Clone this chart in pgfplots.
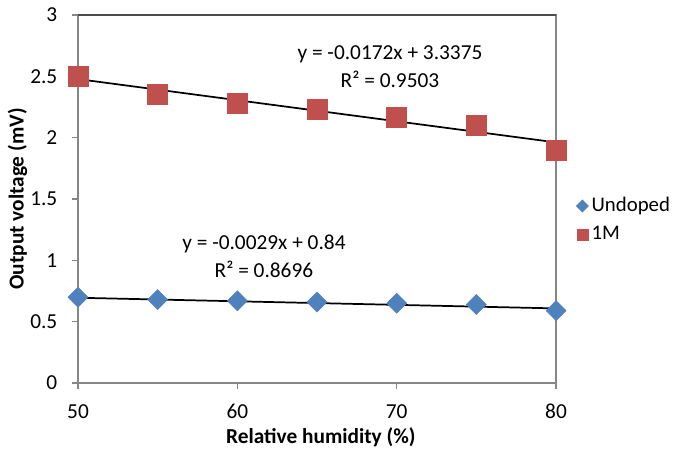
\documentclass[border=0pt]{standalone}
\usepackage{pgfplots}
\pgfplotsset{compat=1.18}
\usepackage{fontspec}
\setmainfont{Carlito}
\definecolor{xblue}{HTML}{4F81BD}
\definecolor{xred}{HTML}{C0504D}
\definecolor{xgray}{HTML}{868686}
\definecolor{xdark}{HTML}{4D4D4D}
\begin{document}
\fontsize{16}{19}\selectfont
\begin{tikzpicture}
\path[use as bounding box] (-58.5pt,-49.5pt) rectangle (446.25pt,287.25pt);
\begin{axis}[
  at={(0,0)}, anchor=south west,
  scale only axis, width=358.5pt, height=276pt,
  xmin=50, xmax=80, ymin=0, ymax=3,
  xtick={50,60,70,80}, ytick={0,0.5,1,1.5,2,2.5,3},
  yticklabels={0,0.5,1,1.5,2,2.5,3},
  xticklabels={50,60,70,80},
  tick align=outside, tick pos=left,
  major tick length=4.5pt,
  every tick/.style={xgray, line width=0.9pt},
  axis line style={xgray, line width=0.9pt},
  ticklabel style={font=\fontsize{16}{19}\selectfont},
  yticklabel style={xshift=-5.5pt},
  xticklabel style={yshift=-6pt},
  xlabel={\textbf{Relative humidity (\%)}},
  ylabel={\textbf{Output voltage (mV)}},
  xlabel style={at={(axis description cs:0.508,-0.147)}, anchor=center, font=\fontsize{16}{19}\selectfont},
  ylabel style={at={(axis description cs:-0.1266,0.5)}, anchor=center, font=\fontsize{16}{19}\selectfont},
  legend style={at={(rel axis cs:1.041,0.443)}, anchor=west, draw=none, fill=none,
    font=\fontsize{15.6}{18.5}\selectfont, row sep=4.5pt, inner sep=0pt,
    /tikz/every even column/.append style={column sep=2pt}},
  legend cell align=left,
  clip=false,
]
\addplot[only marks, mark=square*, mark size=5.3pt, mark options={rotate=45}, color=xblue, fill=xblue,
  legend image code/.code={\pgfsetfillcolor{xblue}\pgfpathmoveto{\pgfqpoint{0pt}{4.9pt}}\pgfpathlineto{\pgfqpoint{4.9pt}{0pt}}\pgfpathlineto{\pgfqpoint{0pt}{-4.9pt}}\pgfpathlineto{\pgfqpoint{-4.9pt}{0pt}}\pgfpathclose\pgfusepath{fill}}]
  coordinates {(50,0.70) (55,0.68) (60,0.67) (65,0.66) (70,0.65) (75,0.64) (80,0.59)};
\addlegendentry{Undoped}
\addplot[only marks, mark=square*, mark size=7.5pt, color=xred, fill=xred,
  legend image code/.code={\fill[xred] (-4.1pt,-4.1pt) rectangle (4.1pt,4.1pt);}]
  coordinates {(50,2.50) (55,2.35) (60,2.28) (65,2.23) (70,2.17) (75,2.10) (80,1.90)};
\addlegendentry{1M}
\addplot[black, line width=1.3pt, forget plot] coordinates {(50,0.695) (80,0.608)};
\addplot[black, line width=1.3pt, forget plot] coordinates {(50,2.4775) (80,1.9615)};
\draw[xgray, line width=0.9pt] (rel axis cs:1,0) -- (rel axis cs:1,1);
\draw[xdark, line width=0.9pt] (rel axis cs:0,1) -- (rel axis cs:1,1);
\node[align=center, font=\fontsize{16}{19}\selectfont, inner sep=0pt] at (axis cs:69.58,2.58) {y = -0.0172x + 3.3375\\[2pt]R² = 0.9503};
\node[align=center, font=\fontsize{16}{19}\selectfont, inner sep=0pt] at (axis cs:61.67,1.03) {y = -0.0029x + 0.84\\[2pt]R² = 0.8696};
\end{axis}
\end{tikzpicture}
\end{document}
